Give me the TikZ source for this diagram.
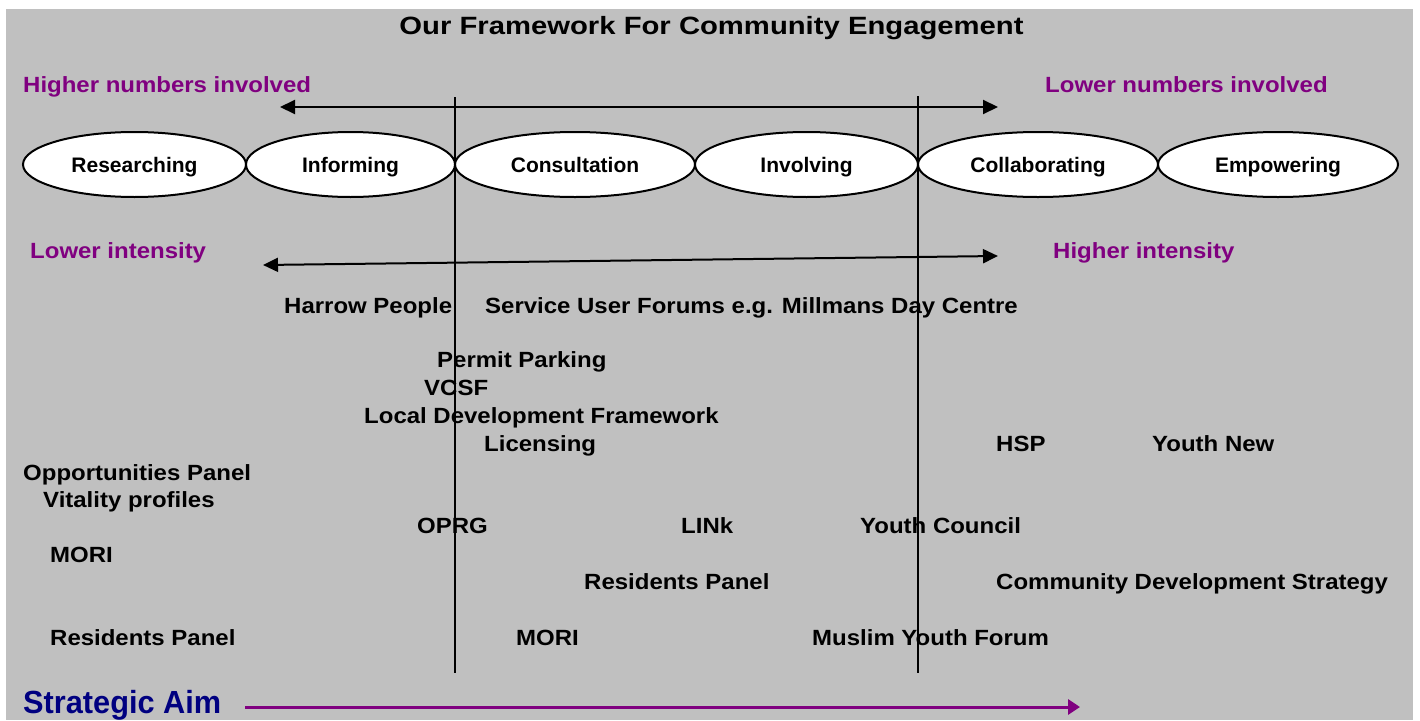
\documentclass[tikz,border=0pt]{standalone}
\usepackage{fontspec}
\setmainfont{Liberation Sans}
\newfontfamily\titlefam{Liberation Sans}[FakeStretch=1.17]
\newfontfamily\itemfam{Liberation Sans}[FakeStretch=1.09]
\newfontfamily\ellfam{Liberation Sans}
\newfontfamily\aimfam{Liberation Sans}[FakeStretch=0.96]
\usetikzlibrary{shapes.geometric,arrows.meta}
\definecolor{bggrey}{HTML}{C0C0C0}
\definecolor{lblpurple}{HTML}{800080}
\definecolor{aimnavy}{HTML}{000080}
\begin{document}
\begin{tikzpicture}[x=1pt,y=-1pt,
  stage/.style={ellipse,draw=black,line width=2pt,fill=white,inner sep=0pt,
    text height=15pt,text depth=0pt,
    font=\ellfam\bfseries\fontsize{21}{24}\selectfont},
  item/.style={anchor=base west,inner sep=0pt,
    font=\itemfam\bfseries\fontsize{22}{26}\selectfont},
  scale label/.style={item,text=lblpurple},
  axisline/.style={line width=2pt,black},
  dblarrow/.style={line width=2pt,black,{Triangle[length=15pt,width=14pt]}-{Triangle[length=15pt,width=14pt]}},
  aimarrow/.style={line width=3pt,lblpurple,-{Triangle[length=12pt,width=15pt]}}
]
\useasboundingbox (0,0) rectangle (1420,720);
\fill[white] (0,0) rectangle (1420,720);
\fill[bggrey] (6,9) rectangle (1413,720);

% title
\node[anchor=base,inner sep=0pt,font=\titlefam\bfseries\fontsize{25}{30}\selectfont] (title) at (711.5,34) {Our Framework For Community Engagement};

% scale labels
\node[scale label] (hinum) at (23,92) {Higher numbers involved};
\node[scale label] (lonum) at (1045,92) {Lower numbers involved};
\node[scale label] (loint) at (30,258) {Lower intensity};
\node[scale label] (hiint) at (1053,258) {Higher intensity};

% double arrows
\coordinate (numL) at (280,107);
\coordinate (numR) at (998,107);
\draw[dblarrow] (numL) -- (numR);
\coordinate (intL) at (263,265);
\coordinate (intR) at (998,256);
\draw[dblarrow] (intL) -- (intR);

% stages
\node[stage,minimum width=223pt,minimum height=65pt] (e1) at (134.5,164.5) {Researching};
\node[stage,minimum width=209pt,minimum height=65pt] (e2) at (350.5,164.5) {Informing};
\node[stage,minimum width=240pt,minimum height=65pt] (e3) at (575,164.5) {Consultation};
\node[stage,minimum width=223pt,minimum height=65pt] (e4) at (806.5,164.5) {Involving};
\node[stage,minimum width=240pt,minimum height=65pt] (e5) at (1038,164.5) {Collaborating};
\node[stage,minimum width=240pt,minimum height=65pt] (e6) at (1278,164.5) {Empowering};

% vertical dividers
\coordinate (v1t) at (455,97);
\coordinate (v1b) at (455,673);
\coordinate (v2t) at (918,96);
\coordinate (v2b) at (918,673);
\draw[axisline] (v1t) -- (v1b);
\draw[axisline] (v2t) -- (v2b);

% items
\node[item] (harrow) at (284,313) {Harrow People};
\node[item] (sufor) at (485,313) {Service User Forums e.g. Millmans Day Centre};
\node[item] (permit) at (437,367) {Permit Parking};
\node[item] (vcsf) at (424,395) {VCSF};
\node[item] (ldf) at (364,423) {Local Development Framework};
\node[item] (lic) at (484,451) {Licensing};
\node[item] (hsp) at (996,451) {HSP};
\node[item] (ynew) at (1152,451) {Youth New};
\node[item] (opp) at (23,480) {Opportunities Panel};
\node[item] (vit) at (43,507) {Vitality profiles};
\node[item] (oprg) at (417,533) {OPRG};
\node[item] (link) at (681,533) {LINk};
\node[item] (ycoun) at (860,533) {Youth Council};
\node[item] (mori1) at (50,562) {MORI};
\node[item] (rp2) at (584,589) {Residents Panel};
\node[item] (cds) at (996,589) {Community Development Strategy};
\node[item] (rp1) at (50,645) {Residents Panel};
\node[item] (mori2) at (516,645) {MORI};
\node[item] (myf) at (812,645) {Muslim Youth Forum};

% strategic aim
\node[anchor=base west,inner sep=0pt,text=aimnavy,font=\aimfam\bfseries\fontsize{32}{38}\selectfont] (aim) at (23,713) {Strategic Aim};
\coordinate (aimS) at (245,707);
\coordinate (aimE) at (1080,707);
\draw[aimarrow] (aimS) -- (aimE);
\end{tikzpicture}
\end{document}
